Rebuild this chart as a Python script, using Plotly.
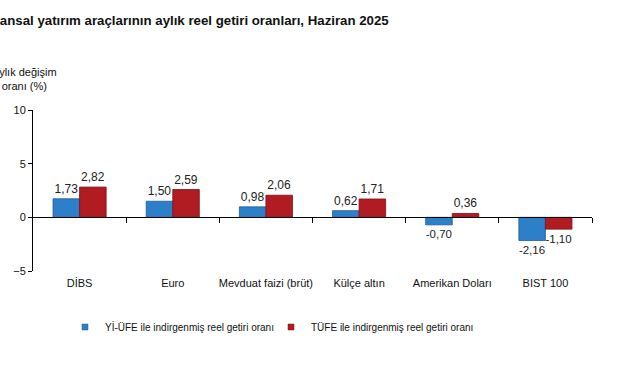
import plotly.graph_objects as go

categories = ["DİBS", "Euro", "Mevduat faizi (brüt)", "Külçe altın", "Amerikan Doları", "BIST 100"]
yi_ufe = [1.73, 1.50, 0.98, 0.62, -0.70, -2.16]
tufe = [2.82, 2.59, 2.06, 1.71, 0.36, -1.10]
series_names = ["Yİ-ÜFE ile indirgenmiş reel getiri oranı", "TÜFE ile indirgenmiş reel getiri oranı"]
y_ticks = [-5, 0, 5, 10]
title_text = "Finansal yatırım araçlarının aylık reel getiri oranları, Haziran 2025"
y_title = "Aylık değişim<br>oranı (%)"

blue = "#2e7fc9"
blue_edge = "#1d5e9c"
red = "#b11b22"
red_edge = "#7c1216"
font_family = "Liberation Sans, Arial, sans-serif"

FIG_W, FIG_H = 622, 369
L, T, W, H = 33, 110, 559, 161  # plot area in px


def fmt(v):
    return f"{v:.2f}".replace(".", ",")


def px_x(x):  # page px -> paper
    return (x - L) / W


def px_y(y):
    return 1 - (y - T) / H


fig = go.Figure()
legend_ids = ["legend", "legend2"]
for i, (vals, name, col, edge) in enumerate([(yi_ufe, series_names[0], blue, blue_edge),
                                             (tufe, series_names[1], red, red_edge)]):
    fig.add_trace(go.Bar(
        x=categories, y=vals, name=name,
        marker=dict(color=col, line=dict(color=edge, width=0.8)),
        text=[fmt(v) for v in vals], textposition="outside",
        textfont=dict(size=12, color="#222222", family=font_family),
        cliponaxis=False, showlegend=False,
    ))
    fig.add_trace(go.Scatter(
        x=[None], y=[None], mode="markers", name=name, legend=legend_ids[i],
        marker=dict(symbol="square", size=6, color=col, line=dict(color=edge, width=0.5)),
    ))

# secondary axis for boundary ticks on the zero line
fig.add_trace(go.Scatter(x=[None], y=[None], xaxis="x2", showlegend=False, hoverinfo="skip"))

legend_common = dict(orientation="h", xanchor="left", yanchor="middle",
                     font=dict(size=10, color="#111111", family=font_family), itemwidth=30,
                     bgcolor="rgba(0,0,0,0)", borderwidth=0)

fig.update_layout(
    width=FIG_W, height=FIG_H,
    margin=dict(l=L, r=FIG_W - L - W, t=T, b=FIG_H - T - H, autoexpand=False),
    paper_bgcolor="white", plot_bgcolor="white",
    font=dict(family=font_family, size=11, color="#111111"),
    barmode="group", bargap=0.43, bargroupgap=0.0,
    xaxis=dict(type="category", categoryorder="array", categoryarray=categories,
               showline=False, ticks="", showgrid=False, zeroline=False, automargin=False,
               tickfont=dict(size=11, color="#111111"), ticklabelstandoff=4),
    xaxis2=dict(overlaying="x", anchor="free", position=1/3, range=[-0.5, 5.5],
                tickvals=[i + 0.5 for i in range(len(categories))], showticklabels=False,
                ticks="outside", ticklen=5, tickcolor="#000000", tickwidth=1, automargin=False,
                showline=True, linecolor="#000000", linewidth=1, showgrid=False, zeroline=False),
    yaxis=dict(range=[-5, 10], tickvals=y_ticks,
               showline=True, linecolor="#000000", linewidth=1, ticks="outside", ticklen=4,
               tickcolor="#000000", showgrid=False, zeroline=False, automargin=False,
               tickfont=dict(size=11, color="#111111")),
    legend=dict(legend_common, x=px_x(65), y=px_y(327)),
    legend2=dict(legend_common, x=px_x(271), y=px_y(327)),
    showlegend=True,
)

fig.add_annotation(text="<b>" + title_text + "</b>", xref="paper", yref="paper",
                   x=px_x(391), y=px_y(20),
                   xanchor="right", yanchor="middle", showarrow=False,
                   font=dict(size=13.25, color="#111111", family=font_family), align="left")
fig.add_annotation(text=y_title, xref="paper", yref="paper", x=px_x(24), y=px_y(79),
                   xanchor="center", yanchor="middle", showarrow=False,
                   font=dict(size=11, color="#111111", family=font_family), align="center")

fig.write_html("out.html", config={"displayModeBar": False},
               post_script="document.body.style.margin='0';")
